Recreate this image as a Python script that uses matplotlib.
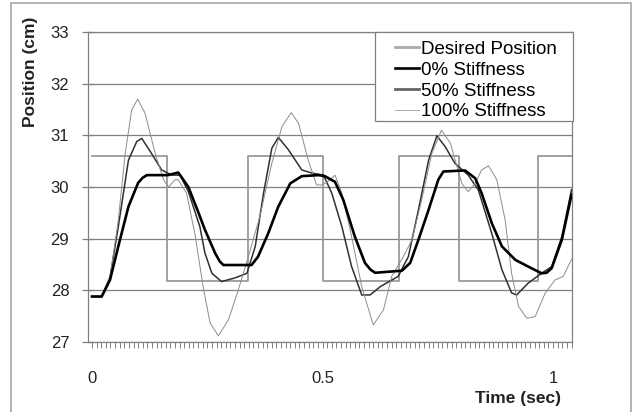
# Position response for different stiffness settings
import matplotlib.pyplot as plt
from matplotlib.patches import Rectangle
from matplotlib.ticker import MultipleLocator

plt.rcParams['font.family'] = ['Liberation Sans', 'DejaVu Sans']

# desired (square wave) position
desired_t = [0, 0.162, 0.338, 0.502, 0.666, 0.795, 0.967, 1.041]
desired_v = [30.6, 28.18, 30.6, 28.18, 30.6, 28.18, 30.6, 30.6]

# 0% stiffness
zero_t = [0, 0.021, 0.039, 0.057, 0.079, 0.1, 0.11, 0.119, 0.165, 0.187, 0.209, 0.231,
          0.245, 0.267, 0.277, 0.285, 0.346, 0.36, 0.382, 0.404, 0.43, 0.455, 0.491,
          0.505, 0.527, 0.545, 0.57, 0.592, 0.604, 0.614, 0.672, 0.69, 0.708, 0.73,
          0.751, 0.762, 0.809, 0.831, 0.845, 0.867, 0.889, 0.918, 0.946, 0.975, 0.986,
          0.997, 1.019, 1.04]
zero_v = [27.88, 27.88, 28.2, 28.85, 29.62, 30.08, 30.18, 30.23, 30.23, 30.28, 30.0, 29.5,
          29.17, 28.72, 28.56, 28.49, 28.49, 28.65, 29.1, 29.62, 30.07, 30.21, 30.23,
          30.21, 30.1, 29.75, 29.04, 28.53, 28.4, 28.34, 28.38, 28.53, 28.98, 29.56,
          30.14, 30.3, 30.32, 30.17, 29.88, 29.3, 28.85, 28.59, 28.46, 28.33, 28.34,
          28.43, 28.98, 29.85]

# 50% stiffness
fifty_t = [0, 0.021, 0.039, 0.057, 0.079, 0.097, 0.108, 0.129, 0.151, 0.173, 0.191,
           0.209, 0.234, 0.245, 0.26, 0.281, 0.31, 0.336, 0.354, 0.372, 0.39, 0.404,
           0.426, 0.455, 0.477, 0.502, 0.52, 0.542, 0.563, 0.585, 0.603, 0.625, 0.664,
           0.686, 0.708, 0.73, 0.748, 0.766, 0.787, 0.816, 0.838, 0.867, 0.889, 0.91,
           0.921, 0.946, 0.975, 0.997, 1.019, 1.04]
fifty_v = [27.88, 27.88, 28.25, 29.23, 30.52, 30.88, 30.94, 30.65, 30.33, 30.23, 30.23,
           29.91, 29.23, 28.72, 28.33, 28.17, 28.24, 28.33, 28.85, 29.88, 30.75, 30.96,
           30.72, 30.33, 30.27, 30.23, 29.88, 29.23, 28.46, 27.91, 27.91, 28.07, 28.27,
           28.65, 29.56, 30.52, 30.99, 30.78, 30.46, 30.23, 29.94, 29.1, 28.4, 27.95,
           27.91, 28.14, 28.33, 28.46, 29.04, 29.95]

# 100% stiffness
hundred_t = [0, 0.021, 0.04, 0.057, 0.072, 0.086, 0.099, 0.115, 0.137, 0.155, 0.166,
             0.18, 0.187, 0.205, 0.223, 0.241, 0.256, 0.274, 0.296, 0.317, 0.339, 0.364,
             0.39, 0.412, 0.432, 0.448, 0.469, 0.487, 0.5, 0.516, 0.527, 0.542, 0.563,
             0.585, 0.61, 0.632, 0.65, 0.675, 0.694, 0.715, 0.737, 0.758, 0.777, 0.802,
             0.816, 0.831, 0.845, 0.86, 0.878, 0.896, 0.91, 0.925, 0.943, 0.961, 0.983,
             1.004, 1.022, 1.04]
hundred_v = [27.88, 27.88, 28.3, 29.36, 30.65, 31.49, 31.7, 31.43, 30.65, 30.14, 30.0,
             30.14, 30.14, 29.88, 29.1, 28.07, 27.37, 27.12, 27.43, 28.0, 28.65, 29.43,
             30.46, 31.17, 31.44, 31.23, 30.52, 30.04, 30.04, 30.14, 30.23, 29.88, 29.04,
             28.07, 27.33, 27.62, 28.27, 28.65, 28.98, 29.75, 30.65, 31.1, 30.85, 30.07,
             29.91, 30.07, 30.33, 30.41, 30.14, 29.36, 28.33, 27.69, 27.46, 27.49, 27.95,
             28.2, 28.27, 28.6]

x_ticks = [0, 0.5, 1]
x_labels = ['0', '0.5', '1']
y_ticks = [27, 28, 29, 30, 31, 32, 33]

W, H = 632, 412
fig = plt.figure(figsize=(W / 100, H / 100), dpi=100)
ax = fig.add_axes([88 / W, 1 - 342 / H, (572 - 88) / W, (342 - 32) / H])

grey = '#808080'
for y in y_ticks:
    ax.axhline(y, color=grey, lw=0.9, zorder=1)

ax.step(desired_t, desired_v, where='post', color='#9a9a9a', lw=1.3, label='Desired Position', zorder=2)
ax.plot(zero_t, zero_v, color='black', lw=1.9, label='0% Stiffness', zorder=4)
ax.plot(fifty_t, fifty_v, color='#303030', lw=1.1, label='50% Stiffness', zorder=3)
ax.plot(hundred_t, hundred_v, color='#8c8c8c', lw=0.7, label='100% Stiffness', zorder=3)

ax.set_xlim(-0.0087, 1.041)
ax.set_ylim(27, 33)
ax.set_yticks(y_ticks)
ax.set_xticks(x_ticks)
ax.set_xticklabels(x_labels)
ax.xaxis.set_minor_locator(MultipleLocator(0.01))

for s in ax.spines.values():
    s.set_color(grey)
    s.set_linewidth(0.9)

ax.tick_params(axis='y', direction='inout', length=9, width=0.9, color=grey,
               labelsize=12, pad=9, labelcolor='#222222')
ax.tick_params(axis='x', which='both', direction='out', length=4, width=0.7, color=grey,
               labelsize=12, pad=17, labelcolor='#222222')

# legend box drawn separately so it can be wider than the entries
box = Rectangle((375 / W, 1 - 121 / H), (573 - 375) / W, (121 - 32) / H,
                transform=fig.transFigure, facecolor='white', edgecolor=grey, lw=0.9, zorder=5)
fig.patches.append(box)
leg = fig.legend(*ax.get_legend_handles_labels(), loc='upper left',
                 bbox_to_anchor=(389 / W, 1 - 35 / H), borderaxespad=0, frameon=False,
                 fontsize=13.5, handlelength=1.3, handletextpad=0.1,
                 labelspacing=0.2, borderpad=0.3)
leg.set_zorder(6)
handles = leg.get_lines()
handles[0].set_linewidth(2.0)
handles[0].set_color('#aaaaaa')
handles[2].set_linewidth(2.0)
handles[2].set_color('#666666')
handles[3].set_color('#aaaaaa')

fig.text(30 / W, 1 - 72 / H, 'Position (cm)', rotation=90, ha='center', va='center',
         fontsize=12.5, fontweight='bold', color='#222222')
fig.text(518 / W, 1 - 399 / H, 'Time (sec)', ha='center', va='center',
         fontsize=12.5, fontweight='bold', color='#222222')

fig.patches.append(Rectangle((11 / W, -0.01), 620 / W, 1.0027, transform=fig.transFigure,
                             fill=False, edgecolor='#a8a8a8', lw=1.2))

fig.savefig('out.png', dpi=100)
